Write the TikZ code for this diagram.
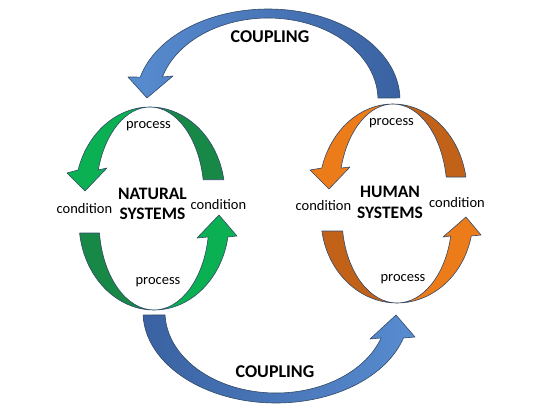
\documentclass[tikz,border=0pt]{standalone}
\usepackage{fontspec}
\setmainfont{Carlito}
\usetikzlibrary{calc}

\definecolor{cpllight}{RGB}{88,140,208}
\definecolor{cpldark}{RGB}{58,98,162}
\definecolor{natlight}{RGB}{10,176,82}
\definecolor{natdark}{RGB}{24,136,70}
\definecolor{humlight}{RGB}{236,124,26}
\definecolor{humdark}{RGB}{194,98,24}
\definecolor{rim}{RGB}{50,74,104}

\begin{document}
\begin{tikzpicture}[x=1pt, y=-1pt,
  band/.style={draw=rim, line width=0.6pt, line join=round},
  word/.style={font=\fontsize{14.5}{17}\selectfont, inner sep=0pt},
  sysname/.style={font=\fontsize{17.5}{20.5}\selectfont\bfseries, align=center, inner sep=0pt},
  cpl/.style={font=\fontsize{18}{21}\selectfont\bfseries, inner sep=0pt}]
  \useasboundingbox (0,0) rectangle (550,413);

  % ring and coupling centres
  \coordinate (cpltop) at (268,100);
  \coordinate (cplbot) at (276,312);
  \coordinate (nattop) at (150,195);
  \coordinate (natbot) at (154,222);
  \coordinate (humtop) at (393,192);
  \coordinate (humbot) at (397,218);

  % coupling, human -> natural
  \path[band, left color=cpllight, right color=cpldark]
    ($(cpltop)+(-1.3:132 and 91)$) arc[start angle=-1.3, end angle=-165.4, x radius=132, y radius=91]
    -- (128,77) -- (147,98) -- (173,76)
    -- ($(cpltop)+(-163.7:110 and 82)$) arc[start angle=-163.7, end angle=-1.4, x radius=110, y radius=82] -- cycle;
  % coupling, natural -> human
  \path[band, left color=cpldark, right color=cpllight]
    ($(cplbot)+(178.1:133 and 91)$) arc[start angle=178.1, end angle=16.6, x radius=133, y radius=91]
    -- (415,337) -- (396,315) -- (370,339)
    -- ($(cplbot)+(18.7:111 and 81)$) arc[start angle=18.7, end angle=177.9, x radius=111, y radius=81] -- cycle;

  % natural systems ring
  \path[band, fill=natlight]
    ($(nattop)+(-90:75 and 88)$) arc[start angle=-90, end angle=-163.5, x radius=75, y radius=88]
    -- (67,173) -- (85,191) -- (107,168)
    -- ($(nattop)+(-163.5:54 and 88)$) arc[start angle=-163.5, end angle=-90, x radius=54, y radius=88] -- cycle;
  \path[band, fill=natdark]
    ($(nattop)+(-90:75 and 88)$) arc[start angle=-90, end angle=-10, x radius=75, y radius=88]
    -- ($(nattop)+(-10:54 and 88)$) arc[start angle=-10, end angle=-90, x radius=54, y radius=88] -- cycle;
  \path[band, fill=natdark]
    ($(natbot)+(90:75 and 88)$) arc[start angle=90, end angle=172.8, x radius=75, y radius=88]
    -- ($(natbot)+(172.8:55 and 88)$) arc[start angle=172.8, end angle=90, x radius=55, y radius=88] -- cycle;
  \path[band, fill=natlight]
    ($(natbot)+(90:75 and 88)$) arc[start angle=90, end angle=9.8, x radius=75, y radius=88]
    -- (237,236) -- (219,215) -- (197,238)
    -- ($(natbot)+(9.8:55 and 88)$) arc[start angle=9.8, end angle=90, x radius=55, y radius=88] -- cycle;

  % human systems ring
  \path[band, fill=humlight]
    ($(humtop)+(-90:74 and 88)$) arc[start angle=-90, end angle=-164.2, x radius=74, y radius=88]
    -- (310,170) -- (329,189) -- (350,167)
    -- ($(humtop)+(-164.2:54 and 88)$) arc[start angle=-164.2, end angle=-90, x radius=54, y radius=88] -- cycle;
  \path[band, fill=humdark]
    ($(humtop)+(-90:74 and 88)$) arc[start angle=-90, end angle=-9.8, x radius=74, y radius=88]
    -- ($(humtop)+(-9.8:54 and 88)$) arc[start angle=-9.8, end angle=-90, x radius=54, y radius=88] -- cycle;
  \path[band, fill=humdark]
    ($(humbot)+(90:76 and 85)$) arc[start angle=90, end angle=171.2, x radius=76, y radius=85]
    -- ($(humbot)+(171.2:55 and 85)$) arc[start angle=171.2, end angle=90, x radius=55, y radius=85] -- cycle;
  \path[band, fill=humlight]
    ($(humbot)+(90:76 and 85)$) arc[start angle=90, end angle=12.2, x radius=76, y radius=85]
    -- (481,235) -- (466,217) -- (443,237)
    -- ($(humbot)+(12.2:55 and 85)$) arc[start angle=12.2, end angle=90, x radius=55, y radius=85] -- cycle;

  % labels
  \node[cpl] (cplup) at (270,37) {COUPLING};
  \node[cpl] (cpldown) at (275,372) {COUPLING};
  \node[sysname] (natural) at (152.5,204) {NATURAL\\SYSTEMS};
  \node[sysname] (human) at (390,202.5) {HUMAN\\SYSTEMS};
  \node[word] (natproc1) at (148.5,126) {process};
  \node[word] (natproc2) at (158,282) {process};
  \node[word] (natcond1) at (84.5,209) {condition};
  \node[word] (natcond2) at (218.5,204.5) {condition};
  \node[word] (humproc1) at (391.5,123) {process};
  \node[word] (humproc2) at (403,279) {process};
  \node[word] (humcond1) at (323.5,206) {condition};
  \node[word] (humcond2) at (457,203) {condition};
\end{tikzpicture}
\end{document}
